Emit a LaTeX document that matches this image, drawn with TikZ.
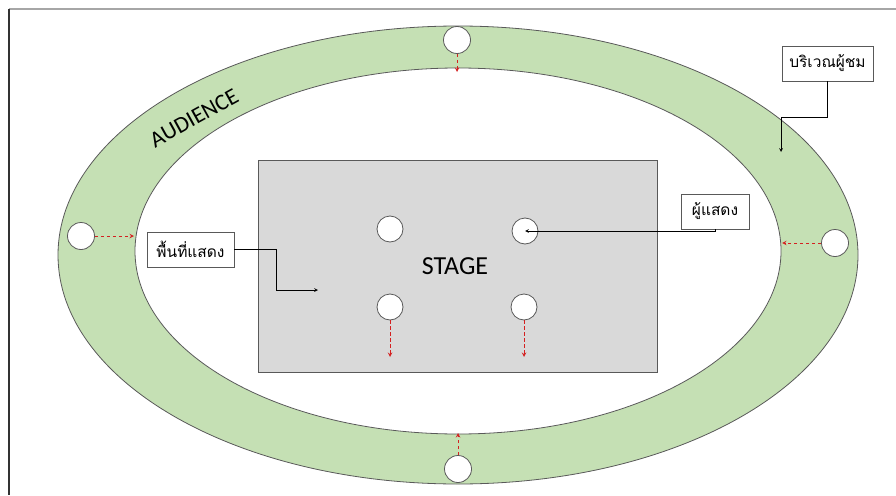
\documentclass[tikz,border=0pt]{standalone}
\usepackage{fontspec}
\setmainfont{Carlito}
\newfontfamily\thaifont[Script=Thai]{Loma}
\usetikzlibrary{positioning}
\definecolor{ringgreen}{HTML}{C5E0B4}
\definecolor{stagegray}{HTML}{D9D9D9}
\definecolor{edgegray}{HTML}{595959}
\definecolor{arrowred}{HTML}{D42020}

\begin{document}
\begin{tikzpicture}[x=1pt, y=-1pt,
  actor/.style = {draw=edgegray, fill=white, circle, minimum size=26pt, inner sep=0pt, line width=0.8pt},
  tag/.style = {draw=edgegray, fill=white, font=\thaifont\fontsize{15.5}{18}\selectfont, inner sep=0pt, minimum height=35pt, line width=0.8pt},
  move/.style = {->, >=stealth, dash pattern=on 3.5pt off 2.5pt, arrowred, line width=1pt},
  point/.style = {->, >=stealth, black, line width=0.7pt}]
\useasboundingbox (0,0) rectangle (896,495);
% frame
\draw[gray!70, line width=1.2pt] (9,9) -- (896,9);
\draw[black!80, line width=1.2pt] (9,9) -- (9,495);

% audience ring
\draw[edgegray, fill=ringgreen, line width=0.8pt] (458,255) ellipse [x radius=400, y radius=229];
\draw[edgegray, fill=white, line width=0.8pt] (458,251) ellipse [x radius=323, y radius=183];
\node[rotate=29, font=\fontsize{23}{26}\selectfont] (audience) at (194,118) {AUDIENCE};

% stage
\node[draw=edgegray, fill=stagegray, minimum width=399pt, minimum height=212pt, inner sep=0pt, line width=0.8pt] (stage) at (457.5,266) {};
\node[font=\fontsize{26}{30}\selectfont] (title) at (455,266) {STAGE};

% performers on stage
\node[actor] (p1) at (390,229) {};
\node[actor] (p2) at (525,231) {};
\node[actor] (p3) at (390,307) {};
\node[actor] (p4) at (524,307) {};
\coordinate (p3end) at (390,357);
\coordinate (p4end) at (524,357);
\draw[move] (p3) -- (p3end);
\draw[move] (p4) -- (p4end);

% performers in the ring
\node[actor, minimum size=27pt] (top)    at (457,40) {};
\node[actor, minimum size=27pt] (left)   at (81,236) {};
\node[actor, minimum size=27pt] (right)  at (835,243) {};
\node[actor, minimum size=27pt] (bottom) at (458,469) {};
\coordinate (topend)    at (457,72);
\coordinate (leftend)   at (134,236);
\coordinate (rightend)  at (782,243);
\coordinate (bottomend) at (458,433);
\draw[move] (top) -- (topend);
\draw[move] (left) -- (leftend);
\draw[move] (right) -- (rightend);
\draw[move] (bottom) -- (bottomend);

% labels
\node[tag, minimum width=91pt] (viewers)   at (827.5,63.5) {บริเวณผู้ชม};
\node[tag, minimum width=87pt] (area)      at (190.5,249.5) {พื้นที่แสดง};
\node[tag, minimum width=68pt] (performer) at (715,211.5) {ผู้แสดง};

\coordinate (vbend) at (781,117);
\coordinate (vend)  at (781,152);
\coordinate (abend) at (276,290);
\coordinate (aend)  at (318,290);
\draw[point] (viewers.south) |- (vbend) -- (vend);
\draw[point] (area.east) -| (abend) -- (aend);
\draw[point] (performer.south) |- (p2.center);

\end{tikzpicture}
\end{document}
